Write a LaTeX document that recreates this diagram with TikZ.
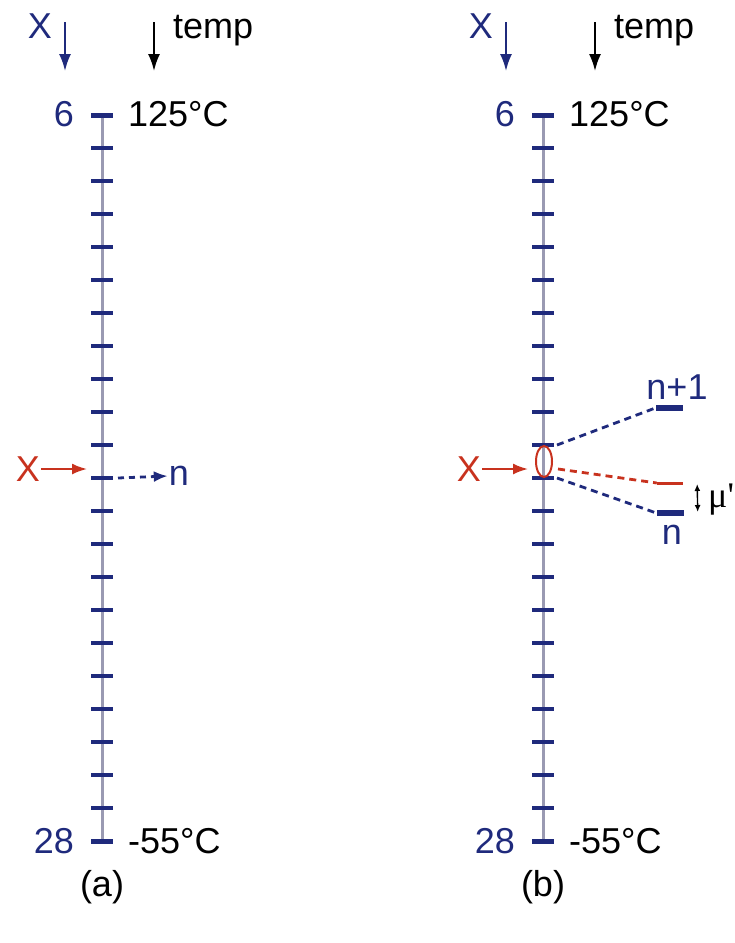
\documentclass[tikz,border=0pt]{standalone}
\usepackage{fontspec}
\setmainfont{Liberation Sans}
\newfontfamily\serifmu{Liberation Serif}
\usetikzlibrary{arrows.meta,calc,shapes.geometric}
\definecolor{cNavy}{HTML}{1F2A7C}
\definecolor{cRed}{HTML}{C8321E}
\definecolor{cAxis}{HTML}{9A9AB2}

\tikzset{
  axisline/.style={cAxis, line width=3pt},
  tickmark/.style={cNavy, line width=3.5pt},
  endtick/.style={cNavy, line width=5pt},
  lvlbar/.style={fill=cNavy, inner sep=0pt, minimum width=27pt, minimum height=5.5pt},
  lvlred/.style={fill=cRed, inner sep=0pt, minimum width=26pt, minimum height=3pt},
  dashline/.style={line width=2.8pt, dash pattern=on 7pt off 5pt},
  downarrow/.style={->, line width=2pt}
}

\begin{document}
\begin{tikzpicture}[x=1pt, y=-1pt, font=\fontsize{36}{43}\selectfont,
  >={Latex[length=17pt,width=12pt]}, every node/.style={inner sep=1pt}]
\useasboundingbox (0,0) rectangle (735,943);

% the two scales
\foreach \p/\x in {a/102, b/543} {
  \draw[axisline] (\x,115) -- (\x,841);
  \foreach \i in {0,...,22} {
    \coordinate (\p\i) at (\x,115+33*\i);
    \draw[tickmark] ([xshift=-11pt]\p\i) -- ([xshift=11pt]\p\i);
  }
  \draw[endtick] ([xshift=-11pt]\p0) -- ([xshift=11pt]\p0);
  \draw[endtick] ([xshift=-11pt]\p22) -- ([xshift=11pt]\p22);
  % heads
  \node[cNavy] (\p-x) at (\x-62,26) {X};
  \coordinate (\p-xs) at (\x-37,22);
  \coordinate (\p-xe) at (\x-37,71);
  \draw[downarrow, cNavy] (\p-xs) -- (\p-xe);
  \coordinate (\p-ts) at (\x+52,22);
  \coordinate (\p-te) at (\x+52,71);
  \draw[downarrow] (\p-ts) -- (\p-te);
  \node[anchor=base west] (\p-temp) at (\x+70,38) {temp};
  % ends of the scale
  \node[cNavy, anchor=east] (\p-top) at (\x-27,114) {6};
  \node[anchor=west] (\p-hot) at (\x+25,114) {125°C};
  \node[cNavy, anchor=east] (\p-bot) at (\x-27,841) {28};
  \node[anchor=west] (\p-cold) at (\x+25,841) {-55°C};
  \node (\p-cap) at (\x,887) {(\p)};
  % input X
  \node[cRed] (\p-red) at (\x-74,469) {X};
  \coordinate (\p-rt) at (\x-15,469);
  \draw[->, cRed, line width=2pt, >={Latex[length=15pt,width=11pt]}] (\p-red.east) -- (\p-rt);
}

% (a): lands on one level
\node[cNavy] (na) at (179,476) {n};
\draw[->, cNavy, line width=2.8pt, dash pattern=on 6pt off 5pt, >={Latex[length=14pt,width=11pt]}]
  ([xshift=16pt]a11) -- (na.west);

% (b): falls between two levels
\node[ellipse, draw=cRed, line width=2pt, minimum width=16pt, minimum height=31pt, inner sep=0pt] (ell) at (544,461.5) {};
\node[lvlbar] (nup) at (669,408) {};
\node[lvlred] (nmid) at (670,483) {};
\node[lvlbar] (nlow) at (670,513) {};
\draw[cNavy, dashline] ([xshift=14pt]b10) -- (nup.west);
\draw[cRed, dashline] ($(b11)+(15,-9)$) -- (nmid.west);
\draw[cNavy, dashline] ([xshift=14pt]b11) -- (nlow.west);
\node[cNavy] (lup) at (677,387) {n+1};
\node[cNavy] (llow) at (672,535) {n};
\draw[<->, line width=1.4pt, >={Latex[length=7pt,width=6pt]}]
  ($(nmid.east)+(14,1)$) -- ($(nlow.east)+(14,-1)$);
\node[anchor=west] (mu) at (707,500) {\serifmu μ'};
\end{tikzpicture}
\end{document}
